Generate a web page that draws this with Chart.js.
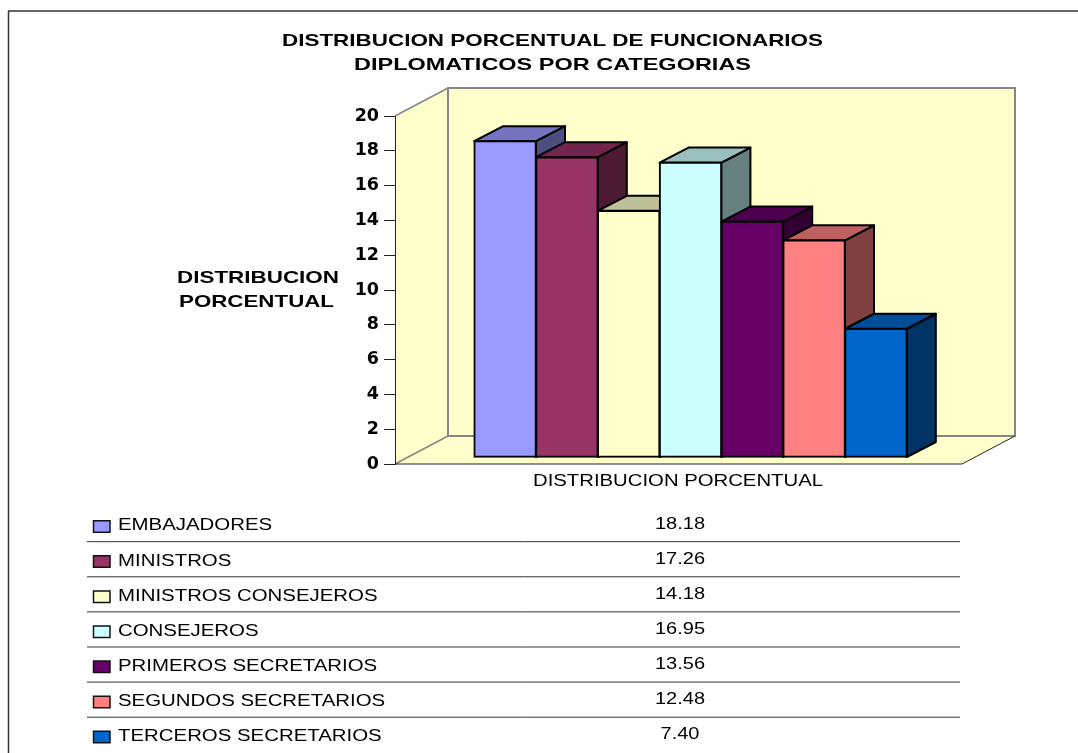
<!DOCTYPE html>
<html>
<head>
<meta charset="utf-8">
<title>Distribucion porcentual</title>
<script src="https://cdn.jsdelivr.net/npm/chart.js@4/dist/chart.umd.min.js"></script>
<style>
    html, body { margin: 0; background: #fff; }
    canvas { display: block; }
</style>
</head>
<body>
<canvas id="chart" width="1078" height="753"></canvas>
<script>
const titleLines = ['DISTRIBUCION PORCENTUAL DE FUNCIONARIOS', 'DIPLOMATICOS POR CATEGORIAS'];
const yLabelLines = ['DISTRIBUCION', 'PORCENTUAL'];
const categoryLabel = 'DISTRIBUCION PORCENTUAL';
const seriesNames = ['EMBAJADORES', 'MINISTROS', 'MINISTROS CONSEJEROS', 'CONSEJEROS',
    'PRIMEROS SECRETARIOS', 'SEGUNDOS SECRETARIOS', 'TERCEROS SECRETARIOS'];
const seriesValues = [18.18, 17.26, 14.18, 16.95, 13.56, 12.48, 7.40];
const seriesColors = ['#9999FF', '#993366', '#FFFFCC', '#CCFFFF', '#660066', '#FF8080', '#0066CC'];

const WALL = { dx: 53, dy: -28 };    // depth of the 3D box
const BAR_SHIFT = { dx: 12, dy: -6.5 }; // bars stand inside the box
const BAR_DEPTH = { dx: 29, dy: -15 };
const ROW_HEIGHT = 35.1;
const FIRST_LINE = 541.7;

function shade(hex, f) {
    const n = parseInt(hex.slice(1), 16);
    const c = [n >> 16, (n >> 8) & 255, n & 255].map(v => Math.round(v * f));
    return 'rgb(' + c.join(',') + ')';
}

// horizontally stretched text, the original is a widened picture
function wideText(ctx, text, x, y, font, sx, align) {
    ctx.save();
    ctx.font = font;
    ctx.fillStyle = '#000';
    ctx.textAlign = align || 'left';
    ctx.textBaseline = 'middle';
    ctx.translate(x, y);
    ctx.scale(sx, 1);
    ctx.fillText(text, 0, 0);
    ctx.restore();
}

function fitText(ctx, text, left, right, y, font) {
    ctx.save();
    ctx.font = font;
    const sx = (right - left) / ctx.measureText(text).width;
    ctx.restore();
    wideText(ctx, text, left, y, font, sx);
}

function poly(ctx, pts, fill, stroke, lineWidth) {
    ctx.beginPath();
    pts.forEach((p, i) => i ? ctx.lineTo(p[0], p[1]) : ctx.moveTo(p[0], p[1]));
    ctx.closePath();
    if (fill) { ctx.fillStyle = fill; ctx.fill(); }
    if (stroke) { ctx.strokeStyle = stroke; ctx.lineWidth = lineWidth; ctx.stroke(); }
}

function line(ctx, x1, y1, x2, y2, color, width) {
    ctx.beginPath();
    ctx.moveTo(x1, y1);
    ctx.lineTo(x2, y2);
    ctx.strokeStyle = color;
    ctx.lineWidth = width;
    ctx.stroke();
}

const boxPlugin = {
    id: 'box',
    beforeDraw(chart) {
        const ctx = chart.ctx;
        const a = chart.chartArea;
        const bx = a.left + WALL.dx, by = a.top + WALL.dy;
        const bb = a.bottom + WALL.dy, br = a.right + WALL.dx;

        ctx.save();
        // outer frame, open at the bottom
        line(ctx, 8.5, 753, 8.5, 11, '#333', 1.5);
        line(ctx, 8, 11, 1078, 11, '#333', 1.5);

        poly(ctx, [[a.left, a.top], [bx, by], [bx, bb], [a.left, a.bottom]], '#FFFFCC');
        poly(ctx, [[a.left, a.bottom], [bx, bb], [br, bb], [a.right, a.bottom]], '#FFFFCC');
        poly(ctx, [[bx, by], [br, by], [br, bb], [bx, bb]], '#FFFFCC', '#868686', 2);
        line(ctx, a.left, a.top, bx, by, '#868686', 1.5);
        line(ctx, a.left, a.bottom, bx, bb, '#868686', 1.5);
        line(ctx, a.left, a.bottom, a.right, a.bottom, '#222', 1);
        line(ctx, a.right, a.bottom, br, bb, '#222', 1);
        ctx.restore();

        titleLines.forEach((t, i) => {
            const span = i === 0 ? [282, 823] : [354, 751];
            fitText(ctx, t, span[0], span[1], 41 + i * 24, 'bold 17px "Liberation Sans"');
        });
        fitText(ctx, yLabelLines[0], 177, 339, 278, 'bold 17px "Liberation Sans"');
        fitText(ctx, yLabelLines[1], 179, 334, 302, 'bold 17px "Liberation Sans"');
        fitText(ctx, categoryLabel, 533, 823, 482, '16px "Liberation Sans"');
    },
    // chart.js paints the first dataset last, the picture needs left to right
    beforeDatasetDraw() {
        return false;
    },
    afterDatasetsDraw(chart) {
        const ctx = chart.ctx;
        ctx.save();
        ctx.translate(BAR_SHIFT.dx, BAR_SHIFT.dy);
        ctx.lineJoin = 'round';
        seriesValues.forEach((v, i) => {
            const bar = chart.getDatasetMeta(i).data[0];
            const l = bar.x - bar.width / 2, r = bar.x + bar.width / 2;
            const t = bar.y, b = bar.base;
            const dx = BAR_DEPTH.dx, dy = BAR_DEPTH.dy;
            poly(ctx, [[r, t], [r + dx, t + dy], [r + dx, b + dy], [r, b]], shade(seriesColors[i], 0.5), '#000', 2);
            poly(ctx, [[l, t], [l + dx, t + dy], [r + dx, t + dy], [r, t]], shade(seriesColors[i], 0.75), '#000', 2);
            bar.draw(ctx);
        });
        ctx.restore();
    },
    afterDraw(chart) {
        const ctx = chart.ctx;
        seriesNames.forEach((name, i) => {
            const lineY = FIRST_LINE + i * ROW_HEIGHT;
            if (i < seriesNames.length - 1) line(ctx, 87, lineY, 960, lineY, '#333', 1);
            ctx.save();
            poly(ctx, [[93.5, lineY - 21], [110, lineY - 21], [110, lineY - 9.5], [93.5, lineY - 9.5]],
                seriesColors[i], '#111', 1.5);
            ctx.restore();
            wideText(ctx, name, 118, lineY - 15.7, '16px "Liberation Sans"', 1.275);
            wideText(ctx, seriesValues[i].toFixed(2), 680, lineY - 17.5, '16px "Liberation Sans"', 1.25, 'center');
        });
    }
};

new Chart(document.getElementById('chart'), {
    type: 'bar',
    data: {
        labels: [categoryLabel],
        datasets: seriesNames.map((name, i) => ({
            label: name,
            data: [seriesValues[i]],
            backgroundColor: seriesColors[i],
            borderColor: '#000',
            borderWidth: 2,
            borderSkipped: false,
            inflateAmount: 0.8,
            categoryPercentage: 0.763,
            barPercentage: 1
        }))
    },
    options: {
        responsive: false,
        animation: false,
        layout: { padding: { top: 116, right: 116, bottom: 289, left: 0 } },
        plugins: { legend: { display: false }, title: { display: false }, tooltip: { enabled: false } },
        scales: {
            x: { display: false },
            y: {
                min: 0,
                max: 20,
                ticks: {
                    stepSize: 2,
                    padding: 5,
                    color: '#000',
                    font: { family: '"DejaVu Sans"', weight: 'bold', size: 17.5 }
                },
                grid: { drawOnChartArea: false, drawTicks: true, tickLength: 11, tickColor: '#222', tickWidth: 1 },
                border: { color: '#222', width: 1 },
                afterFit: function(scale) { scale.width = 395; }
            }
        }
    },
    plugins: [boxPlugin]
});
</script>
</body>
</html>
